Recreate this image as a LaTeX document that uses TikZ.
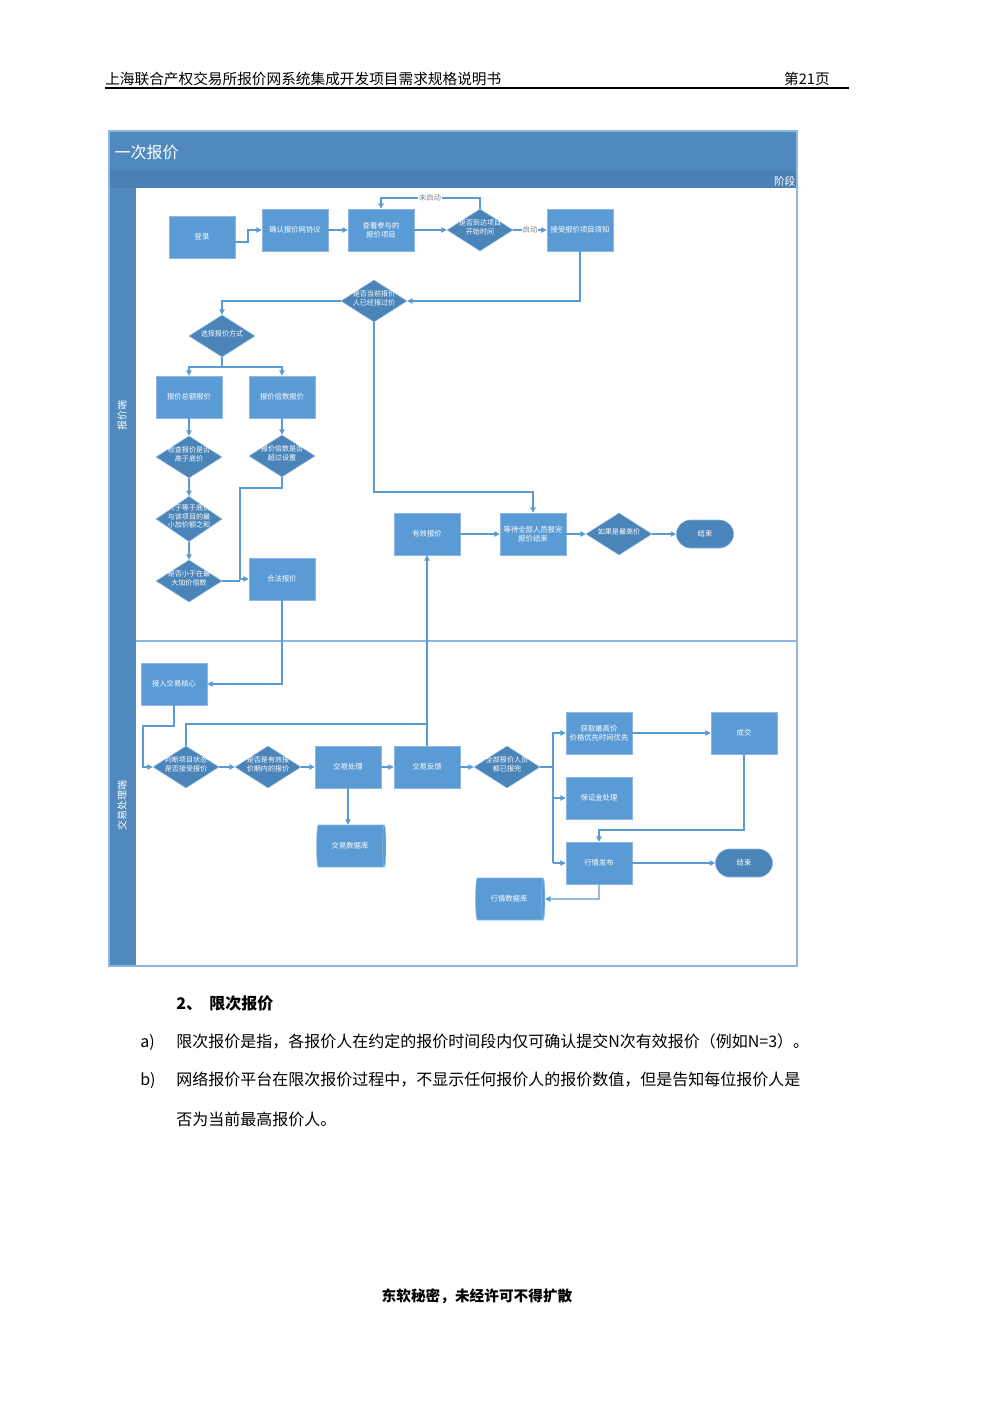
\documentclass[tikz,border=0pt]{standalone}
\usepackage{fontspec}
\setmainfont{Noto Sans CJK SC}
\usetikzlibrary{shapes.geometric,shapes.misc,arrows.meta}
\definecolor{boxc}{HTML}{5B9BD5}
\definecolor{boxb}{HTML}{8DB7E2}
\definecolor{dia}{HTML}{4A84B8}
\definecolor{bar}{HTML}{5089BD}
\definecolor{bar2}{HTML}{4A80B3}
\definecolor{ln}{HTML}{5B9BD5}
\newcommand{\dt}[1]{\smash{\makebox[0pt]{\begin{tabular}{@{}c@{}}#1\end{tabular}}}}
\begin{document}
\begin{tikzpicture}[x=0.75pt,y=-0.75pt,
  bx/.style={draw=boxb,fill=boxc,text=white,minimum width=49.5pt,minimum height=31.5pt,inner sep=1pt,align=center,font=\fontsize{5.5}{6.5}\selectfont},
  dm/.style={diamond,draw=boxb,fill=dia,text=white,minimum width=49.5pt,minimum height=31.5pt,inner sep=0pt,font=\fontsize{5.3}{6.3}\selectfont},
  en/.style={rounded rectangle,draw=boxb,fill=dia,text=white,minimum width=49.5pt,minimum height=21pt,font=\fontsize{5.5}{6.5}\selectfont},
  db/.style={cylinder,shape aspect=0.35,draw=boxb,fill=boxc,text=white,minimum width=31.5pt,minimum height=52pt,inner sep=1pt,font=\fontsize{5.5}{6.5}\selectfont},
  ar/.style={draw=ln,line width=0.8pt,-{Triangle[length=4pt,width=4pt]}},
  li/.style={draw=ln,line width=0.8pt},
  lb/.style={font=\fontsize{5.5}{6.5}\selectfont,text=gray,fill=white,inner sep=0.5pt}]
\useasboundingbox (0,0) rectangle (1000,1415);
% header
\node[anchor=base west,font=\fontsize{11}{13}\selectfont,inner sep=0] (h1) at (105,84) {上海联合产权交易所报价网系统集成开发项目需求规格说明书};
\node[anchor=base east,font=\fontsize{11}{13}\selectfont,inner sep=0] (h2) at (830,84) {第21页};
\draw[line width=1pt] (105,88) -- (849,88);
% frame
\fill[bar] (109,131) rectangle (797,170);
\fill[bar2] (109,170) rectangle (797,188);
\fill[bar] (109,188) rectangle (136,966);
\draw[boxb,line width=0.8pt] (109,131) rectangle (797,966);
\draw[boxb,line width=0.8pt] (136,641) -- (797,641);
\node[anchor=west,text=white,font=\fontsize{12}{14}\selectfont] (t) at (110,152) {一次报价};
\node[anchor=east,text=white,font=\fontsize{8}{9}\selectfont,inner sep=1pt] (s) at (797,181) {阶段};
\node[rotate=90,text=white,font=\fontsize{7.5}{9}\selectfont] (l1) at (122,415) {报价端};
\node[rotate=90,text=white,font=\fontsize{7.5}{9}\selectfont] (l2) at (122,805) {交易处理端};
% nodes
\node[bx] (a1) at (202,237) {登录};
\node[bx] (a2) at (295,230) {确认报价网协议};
\node[bx] (a3) at (381,230) {查看参与的\\报价项目};
\node[dm] (a4) at (480,230) {\dt{是否到达项目\\开始时间}};
\node[bx] (a5) at (580,230) {接受报价项目须知};
\node[dm] (b1) at (374,301) {\dt{是否当前报价\\人已经报过价}};
\node[dm] (b2) at (222,336) {\dt{选择报价方式}};
\node[bx] (c1) at (189,397) {报价总额报价};
\node[bx] (c2) at (282,397) {报价倍数报价};
\node[dm] (c3) at (189,457) {\dt{检查报价是否\\高于底价}};
\node[dm] (c4) at (282,456) {\dt{报价倍数是否\\超过设置}};
\node[dm,minimum height=34pt] (c5) at (189,519) {\dt{大于等于底价\\与该项目的最\\小加价额之和}};
\node[dm] (c6) at (189,581) {\dt{是否小于在最\\大加价倍数}};
\node[bx] (c7) at (282,579) {合法报价};
\node[bx] (d1) at (427,534) {有效报价};
\node[bx] (d2) at (533,534) {等待全部人员报完\\报价结束};
\node[dm] (d3) at (619,534) {\dt{如果是最高价}};
\node[en] (d4) at (705,534) {结束};
\node[bx] (e1) at (174,684) {接入交易核心};
\node[dm] (e2) at (186,767) {\dt{判断项目状态\\是否接受报价}};
\node[dm] (e3) at (268,767) {\dt{是否是有效报\\价期内的报价}};
\node[bx] (e4) at (348,767) {交易处理};
\node[bx] (e5) at (427,767) {交易反馈};
\node[dm] (e6) at (507,767) {\dt{全部报价人员\\都已报完}};
\node[bx] (f1) at (599,733) {获取最高价\\价格优先时间优先};
\node[bx] (f2) at (744,733) {成交};
\node[bx] (f3) at (599,798) {保证金处理};
\node[bx] (f4) at (599,863) {行情发布};
\node[en] (f5) at (744,863) {结束};
\node[db] (g1) at (350,846) {交易数据库};
\node[db] (g2) at (509,899) {行情数据库};
% edges
\draw[ar] ([yshift=-3.75pt]a1.east) -- (248,242) -- (248,230) -- (a2.west);
\draw[ar] (a2) -- (a3);
\draw[ar] (a3) -- (a4);
\draw[ar] (a4.north) -- (480,198) -- (381,198) -- (a3.north);
\node[lb] (w1) at (430,198) {未启动};
\draw[ar] (a4) -- node[lb]{启动} (a5);
\draw[ar] (a5.south) -- (580,301) -- (b1.east);
\draw[ar] (b1.west) -- (222,301) -- (b2.north);
\draw[li] (b2.south) -- (222,367);
\draw[ar] (222,367) -- (189,367) -- (c1.north);
\draw[ar] (222,367) -- (282,367) -- (c2.north);
\draw[ar] (c1) -- (c3);
\draw[ar] (c2) -- (c4);
\draw[ar] (c3) -- (c5);
\draw[ar] (c5) -- (c6);
\draw[ar] (c4.south) -- (282,488) -- (240,488) -- (240,579) -- (c7.west);
\draw[li] (c6.east) -- (240,581);
\draw[ar] (b1.south) -- (374,492) -- (533,492) -- (d2.north);
\draw[ar] (d1) -- (d2);
\draw[ar] (d2) -- (d3);
\draw[ar] (d3) -- (d4);
\draw[ar] (c7.south) -- (282,684) -- (e1.east);
\draw[ar] (e1.south) -- (174,726) -- (143,726) -- (143,767) -- (e2.west);
\draw[li] (e2.north) -- (186,724) -- (427,724);
\draw[ar] (e5.north) -- (d1.south);
\draw[ar] (e2) -- (e3);
\draw[ar] (e3) -- (e4);
\draw[ar] (e4) -- (e5);
\draw[ar] (e5) -- (e6);
\draw[ar] (e4.south) -- (e4.south |- g1.north);
\draw[li] (e6.east) -- (553,767);
\draw[ar] (553,863) -- (553,733) -- (f1.west);
\draw[ar] (553,798) -- (f3.west);
\draw[ar] (553,863) -- (f4.west);
\draw[ar] (f1) -- (f2);
\draw[ar] (f2.south) -- (744,830) -- (599,830) -- (f4.north);
\draw[ar] (f4) -- (f5);
\draw[ar] (f4.south) -- (599,899) -- (g2.east);
% body text
\node[anchor=base west,font=\bfseries\fontsize{12}{14}\selectfont,inner sep=0] (p0) at (176,1009) {2、\ \ 限次报价};
\node[anchor=base west,font=\fontsize{12}{14}\selectfont,inner sep=0] (p1) at (140,1047) {a)};
\node[anchor=base west,font=\fontsize{12}{14}\selectfont,inner sep=0] (p2) at (176,1047) {限次报价是指，各报价人在约定的报价时间段内仅可确认提交N次有效报价（例如N=3）。};
\node[anchor=base west,font=\fontsize{12}{14}\selectfont,inner sep=0] (p3) at (140,1085) {b)};
\node[anchor=base west,font=\fontsize{12}{14}\selectfont,inner sep=0] (p4) at (176,1085) {网络报价平台在限次报价过程中，不显示任何报价人的报价数值，但是告知每位报价人是};
\node[anchor=base west,font=\fontsize{12}{14}\selectfont,inner sep=0] (p5) at (176,1125) {否为当前最高报价人。};
\node[font=\bfseries\fontsize{11}{13}\selectfont] (ft) at (477,1296) {东软秘密，未经许可不得扩散};
\end{tikzpicture}
\end{document}
